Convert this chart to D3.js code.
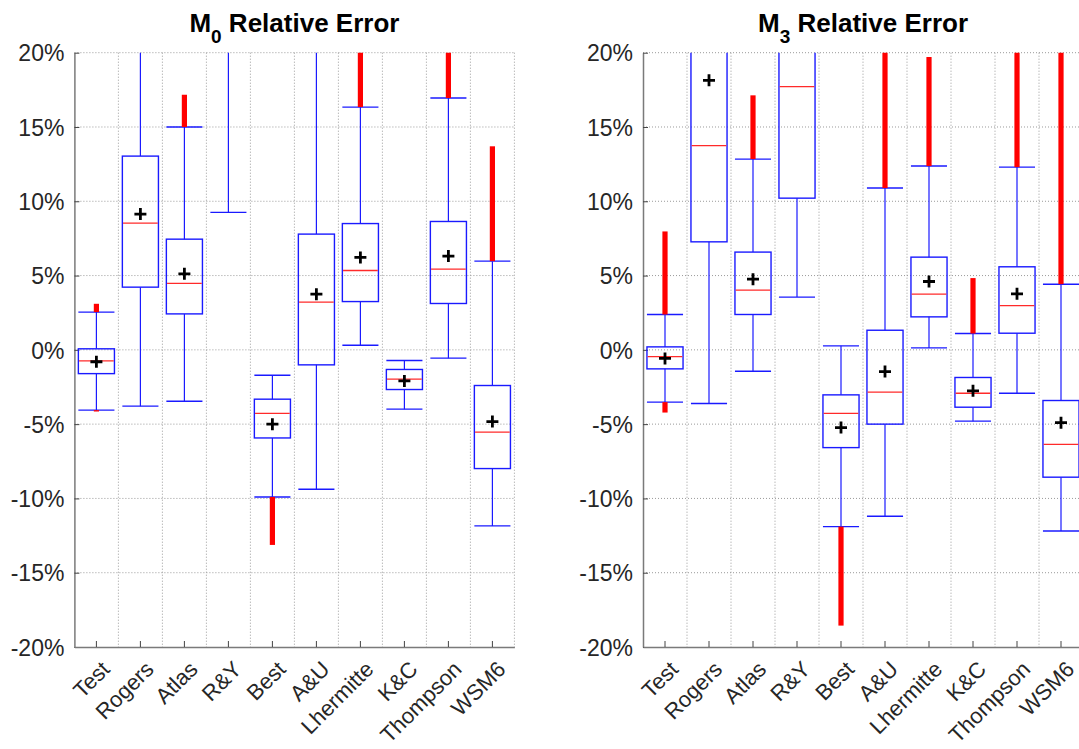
<!DOCTYPE html>
<html>
<head>
<meta charset="utf-8">
<script src="https://cdn.jsdelivr.net/npm/d3@7"></script>
<style>
  body { margin: 0; background: #fff; }
  text { font-family: "Liberation Sans", Arial, Helvetica, sans-serif; }
</style>
</head>
<body>
<svg id="chart" width="1079" height="749"></svg>
<script>
// Schemes compared
const categories = ["Test", "Rogers", "Atlas", "R&Y", "Best", "A&U", "Lhermitte", "K&C", "Thompson", "WSM6"];
const yTickValues = [-20, -15, -10, -5, 0, 5, 10, 15, 20];

// M0 relative error (%) : box statistics per scheme
const m0Q1       = [-1.60,  4.22,  2.42, 21.5, -5.93, -1.01,  3.25, -2.67,  3.12, -7.99];
const m0Median   = [-0.74,  8.53,  4.47, 27.0, -4.27,  3.21,  5.34, -1.97,  5.43, -5.54];
const m0Q3       = [ 0.07, 13.04,  7.45, 33.0, -3.32,  7.79,  8.50, -1.32,  8.64, -2.40];
const m0Mean     = [-0.80,  9.14,  5.12, 28.0, -5.00,  3.75,  6.22, -2.09,  6.31, -4.83];
const m0WhiskLo  = [-4.06, -3.79, -3.46,  9.25, -9.90, -9.38,  0.31, -3.99, -0.56, -11.85];
const m0WhiskHi  = [ 2.54, 25.0, 15.00, 45.0, -1.71, 20.8, 16.34, -0.72, 16.95,  5.97];
const m0OutTop   = [ 3.10, null, 17.17, null,  null,  null, 24.0,  null, 24.0, 13.70];
const m0OutBottom= [-4.15, null,  null, null, -13.13, null,  null,  null,  null,  null];

// M3 relative error (%) : box statistics per scheme
const m3Q1       = [-1.28,  7.27,  2.38, 10.21, -6.58, -5.00,  2.22, -3.86,  1.12, -8.57];
const m3Median   = [-0.45, 13.74,  4.02, 17.71, -4.27, -2.85,  3.75, -2.92,  2.98, -6.36];
const m3Q3       = [ 0.20, 21.5,  6.58, 24.0, -3.03,  1.32,  6.24, -1.86,  5.59, -3.41];
const m3Mean     = [-0.58, 18.14,  4.76, 21.0, -5.23, -1.46,  4.60, -2.76,  3.77, -4.90];
const m3WhiskLo  = [-3.52, -3.61, -1.44,  3.55, -11.90, -11.20, 0.13, -4.80, -2.92, -12.19];
const m3WhiskHi  = [ 2.38, 30.0, 12.84, 30.0,  0.27, 10.89, 12.37,  1.10, 12.30,  4.42];
const m3OutTop   = [ 7.97, null, 17.13, null,  null, 24.0, 19.71,  4.83, 24.0, 24.0];
const m3OutBottom= [-4.22, null,  null, null, -18.56, null,  null,  null,  null,  null];

const svg = d3.select("#chart");
const PLOT_TOP = 52.7, PLOT_BOTTOM = 647, PLOT_W = 440;
const TEXT_COLOR = "#262626";

function drawPanel(opts) {
  const left = opts.left;
  const x = d3.scaleBand().domain(categories).range([left, left + PLOT_W]).padding(0);
  const y = d3.scaleLinear().domain([-20, 20]).range([PLOT_BOTTOM, PLOT_TOP]);
  const bw = x.bandwidth();
  const boxW = bw * 0.82;

  const g = svg.append("g");

  // clip region for marks
  const clipId = "clip-" + opts.id;
  svg.append("clipPath").attr("id", clipId)
    .append("rect").attr("x", left).attr("y", PLOT_TOP)
    .attr("width", PLOT_W).attr("height", PLOT_BOTTOM - PLOT_TOP);

  // dotted grid
  const grid = g.append("g").attr("stroke", "#9a9a9a").attr("stroke-width", 1)
    .attr("stroke-dasharray", "1,2").attr("fill", "none");
  grid.selectAll("line.h").data(yTickValues.filter(d => d > -20)).join("line")
    .attr("class", "h")
    .attr("x1", left).attr("x2", left + PLOT_W)
    .attr("y1", d => y(d)).attr("y2", d => y(d));
  grid.selectAll("line.v").data(categories).join("line")
    .attr("class", "v")
    .attr("x1", d => x(d) + bw).attr("x2", d => x(d) + bw)
    .attr("y1", PLOT_TOP).attr("y2", PLOT_BOTTOM);

  // axes
  const yAxis = d3.axisLeft(y).tickValues(yTickValues).tickFormat(d => d + "%")
    .tickSizeInner(-5).tickSizeOuter(0).tickPadding(10);
  const ya = g.append("g").attr("transform", `translate(${left},0)`).call(yAxis);
  ya.select(".domain").attr("stroke", "#7a7a7a").attr("stroke-width", 1.5);
  ya.selectAll(".tick line").attr("stroke", "#444");
  ya.selectAll(".tick text").attr("fill", TEXT_COLOR).attr("font-size", 23)
    .attr("dy", "0.36em");

  const xAxis = d3.axisBottom(x).tickSizeInner(-6).tickSizeOuter(0);
  const xa = g.append("g").attr("transform", `translate(0,${PLOT_BOTTOM})`).call(xAxis);
  xa.select(".domain").attr("stroke", "#7a7a7a").attr("stroke-width", 1.5);
  xa.selectAll(".tick line").attr("stroke", "#444");
  xa.selectAll(".tick text").attr("fill", TEXT_COLOR).attr("font-size", 22)
    .attr("text-anchor", "end").attr("y", 0).attr("dy", "0.36em")
    .attr("transform", "translate(9,18) rotate(-45)");

  // boxes
  const rows = categories.map((c, i) => ({
    c, q1: opts.q1[i], med: opts.med[i], q3: opts.q3[i], mean: opts.mean[i],
    lo: opts.wLo[i], hi: opts.wHi[i], outTop: opts.outTop[i], outBottom: opts.outBottom[i]
  }));

  const marks = g.append("g").attr("clip-path", `url(#${clipId})`);
  const item = marks.selectAll("g.box").data(rows).join("g").attr("class", "box")
    .attr("transform", d => `translate(${x(d.c) + bw / 2},0)`);

  const BLUE = "#1a1aff";
  item.append("line").attr("stroke", BLUE).attr("stroke-width", 1.2)
    .attr("x1", 0).attr("x2", 0).attr("y1", d => y(d.q3)).attr("y2", d => y(d.hi));
  item.append("line").attr("stroke", BLUE).attr("stroke-width", 1.2)
    .attr("x1", 0).attr("x2", 0).attr("y1", d => y(d.q1)).attr("y2", d => y(d.lo));
  item.append("line").attr("stroke", BLUE).attr("stroke-width", 1.4)
    .attr("x1", -boxW / 2).attr("x2", boxW / 2).attr("y1", d => y(d.hi)).attr("y2", d => y(d.hi));
  item.append("line").attr("stroke", BLUE).attr("stroke-width", 1.4)
    .attr("x1", -boxW / 2).attr("x2", boxW / 2).attr("y1", d => y(d.lo)).attr("y2", d => y(d.lo));
  item.append("rect").attr("fill", "none").attr("stroke", BLUE).attr("stroke-width", 1.4)
    .attr("x", -boxW / 2).attr("width", boxW)
    .attr("y", d => y(d.q3)).attr("height", d => y(d.q1) - y(d.q3));
  item.append("line").attr("stroke", "#ff2a2a").attr("stroke-width", 1.3)
    .attr("x1", -boxW / 2 + 0.7).attr("x2", boxW / 2 - 0.7)
    .attr("y1", d => y(d.med)).attr("y2", d => y(d.med));

  // outlier streaks
  item.filter(d => d.outTop != null).append("rect").attr("fill", "#ff0000")
    .attr("x", -2.6).attr("width", 5.2)
    .attr("y", d => y(d.outTop)).attr("height", d => y(d.hi) - y(d.outTop));
  item.filter(d => d.outBottom != null).append("rect").attr("fill", "#ff0000")
    .attr("x", -2.6).attr("width", 5.2)
    .attr("y", d => y(d.lo)).attr("height", d => y(d.outBottom) - y(d.lo));

  // mean markers
  item.append("path").attr("stroke", "#000").attr("stroke-width", 2.8).attr("fill", "none")
    .attr("transform", d => `translate(0,${y(d.mean)})`)
    .attr("d", "M-6,0H6M0,-6V6");

  // title
  const t = g.append("text").attr("x", left + PLOT_W / 2).attr("y", 31.5)
    .attr("text-anchor", "middle").attr("font-size", 26).attr("font-weight", "bold")
    .attr("fill", "#000");
  t.append("tspan").text("M");
  t.append("tspan").attr("dy", 11).attr("font-size", 19).text(opts.sub);
  t.append("tspan").attr("dy", -11).text(" Relative Error");
}

drawPanel({ id: "m0", left: 74.4, sub: "0",
  q1: m0Q1, med: m0Median, q3: m0Q3, mean: m0Mean,
  wLo: m0WhiskLo, wHi: m0WhiskHi, outTop: m0OutTop, outBottom: m0OutBottom });

drawPanel({ id: "m3", left: 643, sub: "3",
  q1: m3Q1, med: m3Median, q3: m3Q3, mean: m3Mean,
  wLo: m3WhiskLo, wHi: m3WhiskHi, outTop: m3OutTop, outBottom: m3OutBottom });
</script>
</body>
</html>
